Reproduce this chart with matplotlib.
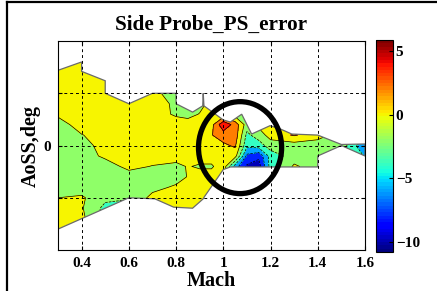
import numpy as np
import matplotlib
matplotlib.use("Agg")
import matplotlib.pyplot as plt
from matplotlib.patches import Polygon, Ellipse
from matplotlib.lines import Line2D
from matplotlib.colors import Normalize

# grid of the error field (rows = AoSS from top to bottom, cols = Mach)
mach = [0.3, 0.4, 0.5, 0.6, 0.7, 0.8, 0.85, 0.9, 0.95, 1.0, 1.05, 1.1, 1.15, 1.2, 1.3, 1.4, 1.5, 1.6]
aoss = [8, 6, 5, 4, 3, 2, 1, 0, -1, -2, -3, -4, -5, -6, -8]

ps_error_cols = [
    [1, 1, 1, 1, 0.4, -1, -1, -1, -1, -1, -1, -1, 0, 1, 1],                    # 0.3
    [1, 1, 1, 1, 1, 1, -0.1, -1, -1, -1, -1, -1, 0.3, 0.2, 1],                 # 0.4
    [1, 1, 1, 1, 1, 1, 1, 1, 0.4, -1, -1, -1, -1.5, -2.6, -3],                 # 0.5
    [1, 1, 1, 1, 1, 1, 1, 1, 1, 0.6, -1, -1, -1.9, -2.5, -2.5],                # 0.6
    [1, 1, 0.6, 1, 1, 1, 1, 1, 1, -0.1, -1, -0.6, 0.6, 1, 1],                  # 0.7
    [-1, -1, -1, -0.4, -0.3, 1, 1, 1, 1, -0.6, -0.8, 0.3, 1, 1, 1],            # 0.8
    [-1, -1, -1, -1, -1, 1.4, 1, 1, 1, 0.15, 0.1, 1, 1, 1, 1],                 # 0.85
    [-1, -1, -1, -1, 0.15, 1, 1, 1, 1, -0.3, 1, 1, 1, 1, 1],                   # 0.9
    [1, 1, 1, 1, 1, 1.3, 1.9, 1.2, 1, -0.3, 1, 1, 1, 1, 1],                    # 0.95
    [0.5, 0.5, 0.5, 0.5, 0.5, 5.5, 3.0, 1.6, 1.0, 1.3, 1, 1, 1, 1, 1],         # 1.0
    [-1, -1, -1, -1, -1, 3.2, 3.2, 2.3, 0.8, -5.0, -5, -5, -5, -5, -5],        # 1.05
    [-1, -1, -1, -1, -1, -1, -2.5, -3.5, -6.5, -8.3, -8.3, -8.3, -8.3, -8.3, -8.3],  # 1.1
    [-1, -1, -1, -1, -1, 0.5, -1.0, -3.0, -7.5, -9.0, -9, -9, -9, -9, -9],     # 1.15
    [1, 1, 1, 1, 1, 1.5, 0.8, -1.0, -3.2, -3.2, -3.2, -3.2, -3.2, -3.2, -3.2], # 1.2
    [1, 1, 1, 1, 1, 1, 2.2, -1, -1, 0.3, 0.3, 0.3, 0.3, 0.3, 0.3],             # 1.3
    [1, 1, 1, 1, 1, 1, 0.8, -1, -1, -1, -1, -1, -1, -1, -1],                   # 1.4
    [-1, -1, -1, -1, -1, -1, -1, -1, -1, -1, -1, -1, -1, -1, -1],              # 1.5
    [-2, -2, -2, -2, -2, -2, -2, -5.8, -4.2, -4.2, -4.2, -4.2, -4.2, -4.2, -4.2],  # 1.6
]

# edge of the tested envelope
env_mach = [0.30, 0.40, 0.40, 0.50, 0.50, 0.60, 0.70, 0.80, 0.80, 0.87, 0.913, 0.915, 0.918,
            1.00, 1.03, 1.078, 1.12, 1.198, 1.24, 1.29, 1.40, 1.50, 1.60,
            1.60, 1.50, 1.40, 1.40, 1.03, 1.00, 0.92, 0.915, 0.87, 0.79, 0.71, 0.60, 0.40, 0.30]
env_aoss = [7.2, 8.0, 7.1, 6.2, 5.0, 4.0, 5.0, 5.0, 4.0, 3.2, 3.8, 5.0, 3.8,
            2.45, 2.25, 3.0, 1.1, 1.9, 1.6, 1.1, 1.0, 0.1, 0.15,
            -1.0, 0.0, -1.0, -2.05, -2.05, -2.3, -4.9, -5.1, -6.0, -5.9, -5.1, -5.0, -7.0, -8.0]

levels = [-12, -10, -8, -6, -4, -2, 0, 2, 4, 6]
cmin, cmax = -10.8, 5.9
cb_ticks = [-10, -5, 0, 5]
x_ticks = [0.4, 0.6, 0.8, 1, 1.2, 1.4, 1.6]
x_labels = ['0.4', '0.6', '0.8', '1', '1.2', '1.4', '1.6']
y_ticks = [-5, 0, 5]
y_labels = ['', '0', '']

# circled region
ring_center = (1.071, -0.2)
ring_w, ring_h = 0.352, 8.8

plt.rcParams['font.family'] = ['Liberation Serif', 'DejaVu Serif']
plt.rcParams['font.weight'] = 'bold'

jet = plt.get_cmap('jet', 64)
norm = Normalize(cmin, cmax)
band_colors = [jet(norm(max(l, cmin))) for l in levels[:-1]]

M, A = np.meshgrid(mach, aoss)
Z = np.array(ps_error_cols).T

fig = plt.figure(figsize=(4.37, 2.91), dpi=100)
ax = fig.add_axes([0.1327, 0.1409, 0.7025, 0.718])

env = Polygon(np.column_stack([env_mach, env_aoss]), closed=True,
              facecolor='none', edgecolor='#6a6a6a', linewidth=0.9, zorder=2)
ax.add_patch(env)

cs = ax.contourf(M, A, Z, levels=levels, colors=band_colors, zorder=1)
cs.set_clip_path(env)
cl = ax.contour(M, A, Z, levels=levels[1:-1], colors='k', linewidths=0.5, zorder=1.5)
cl.set_clip_path(env)

ax.add_patch(Ellipse(ring_center, ring_w, ring_h, facecolor='none',
                     edgecolor='k', linewidth=3.8, zorder=5))

ax.set_xlim(0.3, 1.6)
ax.set_ylim(-10, 10)
ax.set_xticks(x_ticks)
ax.set_xticklabels(x_labels)
ax.set_yticks(y_ticks)
ax.set_yticklabels(y_labels)
ax.tick_params(direction='in', length=3, top=True, right=True, labelsize=11, pad=5)
ax.grid(True, linestyle=(0, (3, 3)), color='k', linewidth=0.7)
ax.set_axisbelow(False)
for s in ax.spines.values():
    s.set_linewidth(0.8)

ax.set_title('Side Probe_PS_error', fontsize=15.3, fontweight='bold', pad=8)
ax.set_xlabel('Mach', fontsize=14.5, fontweight='bold', labelpad=1)
ax.set_ylabel('AoSS,deg', fontsize=14.5, fontweight='bold', labelpad=2)

cax = fig.add_axes([0.8604, 0.134, 0.0389, 0.7285])
sm = plt.cm.ScalarMappable(norm=norm, cmap=jet)
cb = fig.colorbar(sm, cax=cax, ticks=cb_ticks)
cb.outline.set_linewidth(0.8)
cax.tick_params(direction='in', length=3, labelsize=11, pad=2)

# page frame
fig.add_artist(Line2D([7 / 437, 7 / 437], [0, 1 - 2 / 291], color='k', lw=1.6))
fig.add_artist(Line2D([7 / 437, 1], [1 - 2 / 291, 1 - 2 / 291], color='k', lw=1.6))

fig.savefig('out.png', dpi=100)
